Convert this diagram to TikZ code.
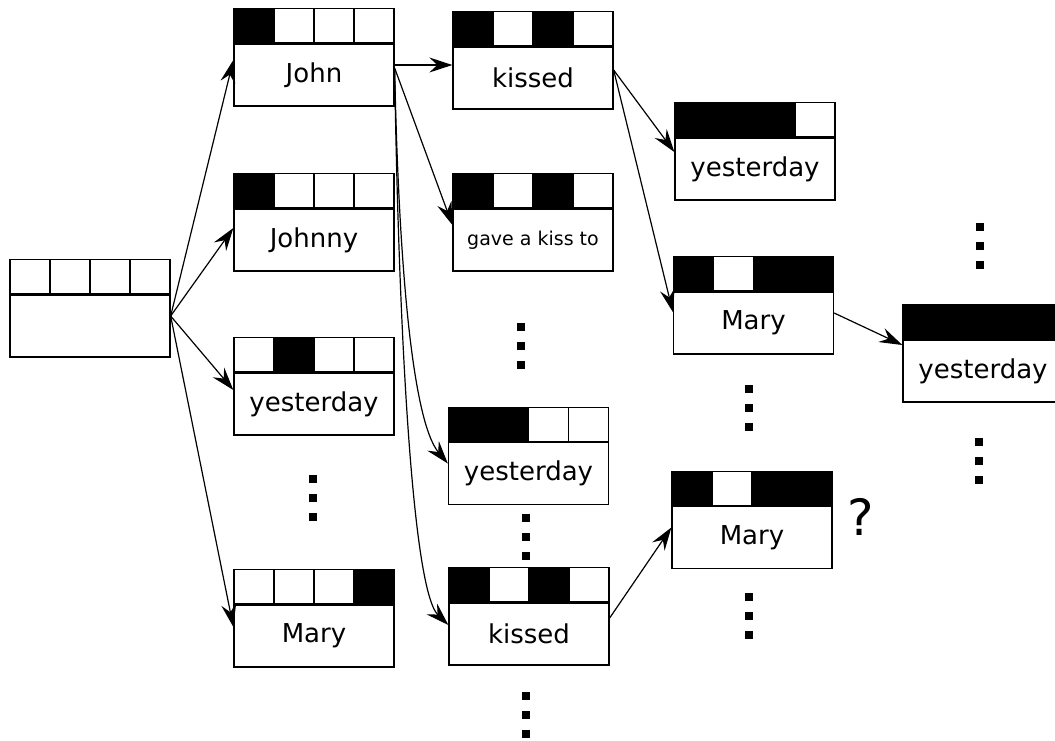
\documentclass[tikz,border=0pt]{standalone}
\usepackage{fontspec}
\setmainfont{DejaVu Sans}
\usetikzlibrary{arrows.meta}

% row of four feature cells on top of a word box
\newcommand\cellrow[2]{%
  \foreach \c [count=\i from 0] in {#2}
    \node[cell, fill=\c] (#1-\i) at ([xshift=\i*40pt]#1.north west) {};}

\begin{document}
\begin{tikzpicture}[
  x=1pt, y=-1pt,
  font=\fontsize{26}{30}\selectfont,
  word/.style={rectangle, draw, line width=1.3pt, minimum width=160pt, minimum height=62pt, inner sep=0pt},
  cell/.style={rectangle, draw, line width=1.3pt, minimum width=40pt, minimum height=34pt, inner sep=0pt, anchor=south west},
  dot/.style={rectangle, fill=black, minimum size=7.5pt, inner sep=0pt},
  arr/.style={-{Stealth[length=23pt,width=15pt,inset=8pt]}, line width=1.2pt}
]
\useasboundingbox (0,0) rectangle (1055,740);

\node[word] (root) at (90,326) {};
\cellrow{root}{white,white,white,white}

% first word
\node[word] (john) at (314,75) {John};
\cellrow{john}{black,white,white,white}
\node[word] (johnny) at (314,240) {Johnny};
\cellrow{johnny}{black,white,white,white}
\node[word] (yest1) at (314,404) {yesterday};
\cellrow{yest1}{white,black,white,white}
\node[word] (mary1) at (314,636) {Mary};
\cellrow{mary1}{white,white,white,black}

% second word
\node[word] (kissed) at (533,78) {kissed};
\cellrow{kissed}{black,white,black,white}
\node[word, font=\fontsize{19}{22}\selectfont] (gave) at (533,240) {gave a kiss to};
\cellrow{gave}{black,white,black,white}
\node[word] (yest2) at (528.5,473.5) {yesterday};
\cellrow{yest2}{black,black,white,white}
\node[word] (kissed2) at (529,634) {kissed};
\cellrow{kissed2}{black,white,black,white}

% third word
\node[word] (yest3) at (755,169) {yesterday};
\cellrow{yest3}{black,black,black,white}
\node[word] (mary2) at (753.5,323) {Mary};
\cellrow{mary2}{black,white,black,black}
\node[word] (mary3) at (752,537.5) {Mary};
\cellrow{mary3}{black,white,black,black}
\node[font=\fontsize{50}{56}\selectfont] (q) at (861,517) {?};

% fourth word
\node[word] (yest4) at (983,371) {yesterday};
\cellrow{yest4}{black,black,black,black}

% vertical dots
\foreach \x/\y [count=\k] in {313/479, 521/327, 526/518, 526/696, 749/389, 749/597, 980/227, 979/442}
  \foreach \d in {0,1,2}
    \node[dot] (dot\k-\d) at (\x,\y+19*\d) {};

\draw[arr] ([yshift=10pt]root.east) -- ([yshift=15pt]john.west);
\draw[arr] ([yshift=10pt]root.east) -- ([yshift=12pt]johnny.west);
\draw[arr] ([yshift=10pt]root.east) -- ([yshift=14pt]yest1.west);
\draw[arr] ([yshift=10pt]root.east) -- ([yshift=9pt]mary1.west);

\draw[arr] ([yshift=10pt]john.east) -- ([yshift=13pt]kissed.west);
\draw[arr] ([yshift=7pt]john.east) -- ([yshift=15pt]gave.west);
\draw[arr] ([yshift=5pt]john.east) .. controls +(4,190) and +(-36,-43) .. ([yshift=10pt]yest2.west);
\draw[arr] ([yshift=5pt]john.east) .. controls +(4,260) and +(-36,-35) .. ([yshift=9pt]kissed2.west);

\draw[arr] ([yshift=8pt]kissed.east) -- ([yshift=17pt]yest3.west);
\draw[arr] ([yshift=8pt]kissed.east) -- ([yshift=11pt]mary2.west);
\draw[arr] ([yshift=16pt]kissed2.east) -- ([yshift=10pt]mary3.west);
\draw[arr] ([yshift=10pt]mary2.east) -- ([yshift=26pt]yest4.west);
\end{tikzpicture}
\end{document}
